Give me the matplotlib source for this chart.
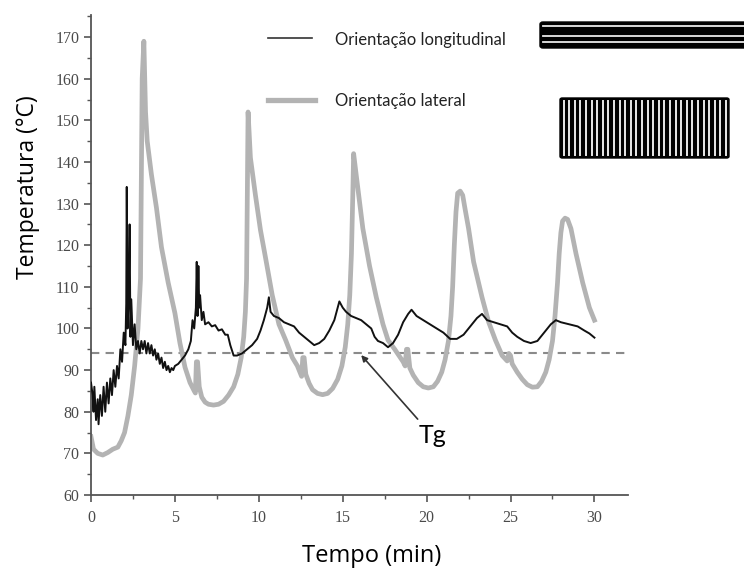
import matplotlib
matplotlib.use("Agg")
import matplotlib.pyplot as plt
from matplotlib.patches import FancyBboxPatch

# ---- data ----
long_x = [0.0, 0.1, 0.15, 0.2, 0.3, 0.4, 0.45, 0.55, 0.65, 0.75, 0.85, 0.95, 1.05, 1.15, 1.25,
          1.35, 1.45, 1.55, 1.65, 1.75, 1.85, 1.95, 2.05, 2.1, 2.13, 2.18, 2.25, 2.3, 2.35, 2.4,
          2.5, 2.6, 2.7, 2.8, 2.9, 3.0, 3.1, 3.2, 3.3, 3.4, 3.5, 3.6, 3.7, 3.8, 3.9, 4.0, 4.1,
          4.2, 4.3, 4.4, 4.5, 4.6, 4.7, 4.8, 4.9, 5.0, 5.2, 5.4, 5.6, 5.8, 5.95, 6.05, 6.15,
          6.25, 6.3, 6.35, 6.4, 6.45, 6.5, 6.6, 6.7, 6.8, 7.0, 7.2, 7.4, 7.6, 7.8, 8.0, 8.15,
          8.3, 8.5, 8.7, 9.0, 9.3, 9.6, 9.9, 10.1, 10.3, 10.5, 10.6, 10.7, 10.9, 11.2, 11.5,
          11.8, 12.1, 12.4, 12.7, 13.0, 13.3, 13.6, 13.9, 14.2, 14.5, 14.7, 14.8, 15.0, 15.2,
          15.5, 15.8, 16.1, 16.4, 16.7, 16.9, 17.1, 17.4, 17.7, 18.0, 18.3, 18.6, 18.9, 19.1,
          19.4, 19.8, 20.2, 20.6, 21.0, 21.4, 21.8, 22.2, 22.6, 23.0, 23.3, 23.6, 24.0, 24.4,
          24.8, 25.1, 25.4, 25.8, 26.2, 26.6, 27.0, 27.4, 27.7, 28.0, 28.5, 29.0, 29.4, 29.7, 30.0]
long_y = [87, 84, 80, 86, 78, 83, 77, 84, 79, 86, 80, 87, 82, 88, 84,
          90, 86, 91, 88, 95, 92, 99, 96, 106, 134, 100, 108, 125, 98, 107,
          96, 101, 95, 97, 94, 97, 95, 97, 94, 96.5, 94, 96, 93.5, 95, 92.5, 94, 91.5,
          93, 90.5, 92, 90, 91, 89.5, 90.5, 90, 91, 91.5, 92.5, 93.5, 95, 97, 102, 100,
          105, 116, 103, 115, 105, 108, 102, 104, 101, 101.5, 100.5, 100.8, 99.5, 99.8, 98.5, 98.5,
          96, 93.5, 93.5, 94, 95, 96, 97.5, 99.5, 102, 105, 107.5, 104, 103, 102.5, 101.5,
          101, 100.5, 99, 98, 97, 96, 96.5, 97.5, 99.5, 102, 105, 106.5, 105, 104,
          103, 102.5, 102, 101, 100, 98, 97, 96.5, 95.5, 96.5, 98.5, 101.5, 103.5, 104.5,
          103, 102, 101, 100, 99, 97.5, 97.5, 98.5, 100.5, 102.5, 103.5, 102, 101.5, 101,
          100.5, 99, 98, 97, 96.5, 97, 99, 101, 102, 101.5, 101, 100.5, 99.5, 98.8, 97.8]

lat_x = [0.0, 0.15, 0.4, 0.7, 1.0, 1.3, 1.6, 1.8, 2.0, 2.2, 2.4, 2.6, 2.8, 2.95, 3.05, 3.15,
         3.25, 3.35, 3.6, 3.9, 4.2, 4.6, 5.0, 5.3, 5.6, 5.9, 6.15, 6.22, 6.28, 6.35, 6.45, 6.6,
         6.8, 7.0, 7.3, 7.6, 7.9, 8.2, 8.5, 8.75, 8.95, 9.1, 9.2, 9.27, 9.33, 9.36,
         9.5, 9.8, 10.1, 10.4, 10.8, 11.2, 11.6, 12.0, 12.3, 12.55, 12.62, 12.7, 12.8,
         13.0, 13.2, 13.5, 13.8, 14.1, 14.4, 14.7, 14.95, 15.15, 15.3, 15.42, 15.52, 15.6, 15.65,
         15.8, 16.2, 16.6, 17.0, 17.4, 17.7, 18.1, 18.6, 18.72, 18.8, 18.88, 19.0,
         19.2, 19.5, 19.8, 20.1, 20.4, 20.65, 20.9, 21.1, 21.3, 21.45, 21.55, 21.65, 21.75,
         21.85, 22.0, 22.15, 22.3, 22.5, 22.8, 23.3, 23.7, 24.1, 24.5, 24.8, 24.9, 25.0, 25.1,
         25.4, 25.7, 26.0, 26.3, 26.6, 26.85, 27.1, 27.3, 27.5, 27.65, 27.8, 27.9, 28.0, 28.1,
         28.25, 28.4, 28.6, 28.9, 29.3, 29.7, 30.0]
lat_y = [74, 71, 70, 69.6, 70.2, 71, 71.5, 73, 75, 79, 84, 91, 100, 112, 160, 169,
         152, 145, 137, 129, 119.5, 111, 103.7, 96.5, 90.7, 87, 85, 84.5, 92, 92, 86, 83.5,
         82.3, 81.8, 81.6, 81.8, 82.5, 84, 86, 89, 93, 98, 104, 112, 140, 152,
         141, 132, 123.6, 117, 108, 101, 97.2, 93, 91, 88.5, 93, 93, 89,
         86.8, 85.3, 84.4, 84.1, 84.4, 85.6, 87.8, 91, 95.5, 101, 108, 118, 132, 142,
         137, 124, 115, 107.5, 101, 97.2, 95, 92, 91, 95, 95, 90.5,
         88.8, 87, 86, 85.7, 86, 87.3, 89.5, 92.5, 97, 103, 110, 120, 128,
         132.5, 133, 132, 128.5, 124, 116, 107.5, 101.5, 97.2, 93.5, 92.2, 94, 93.5, 91.5,
         89.5, 87.8, 86.5, 85.9, 86, 87.3, 89.5, 92.5, 97, 103, 111, 118, 123, 125.8,
         126.5, 126.2, 124, 118, 111, 105, 102]

tg_value = 94
xticks = [0, 5, 10, 15, 20, 25, 30]
yticks = [60, 70, 80, 90, 100, 110, 120, 130, 140, 150, 160, 170]
label_long = "Orientação longitudinal"
label_lat = "Orientação lateral"

# ---- figure ----
W, H = 744, 574
fig = plt.figure(figsize=(W / 100, H / 100), dpi=100)
ax = fig.add_axes([91 / W, 1 - 495 / H, (628 - 91) / W, (495 - 15) / H])

ax.plot(lat_x, lat_y, color="#b3b3b3", lw=3.4, solid_joinstyle="round", zorder=2)
ax.plot(long_x, long_y, color="#111111", lw=1.4, zorder=3)
ax.axhline(tg_value, color="#8a8a8a", lw=1.5, ls=(0, (4, 3)), zorder=1)

ax.set_xlim(0, 32)
ax.set_ylim(60, 175.3)
ax.set_xticks(xticks)
ax.set_yticks(yticks)
ax.set_xticks([2.5, 7.5, 12.5, 17.5, 22.5, 27.5], minor=True)
ax.set_yticks([65, 75, 85, 95, 105, 115, 125, 135, 145, 155, 165, 175], minor=True)
for s in ("top", "right"):
    ax.spines[s].set_visible(False)
for s in ("left", "bottom"):
    ax.spines[s].set_color("#555555")
    ax.spines[s].set_linewidth(1.3)
ax.tick_params(which="major", direction="out", length=5, width=1.2, color="#555555",
               labelsize=11.5, labelcolor="#4a4a4a")
ax.tick_params(which="minor", direction="out", length=3, width=1.0, color="#555555")
for lab in ax.get_xticklabels() + ax.get_yticklabels():
    lab.set_fontfamily("Liberation Serif")
ax.tick_params(axis="x", pad=6)

# legend (drawn manually to match positions)
fig.add_artist(plt.Line2D([268 / W, 312 / W], [1 - 38 / H, 1 - 38 / H], color="#333333", lw=1.2))
fig.add_artist(plt.Line2D([268 / W, 315 / W], [1 - 100 / H, 1 - 100 / H], color="#b3b3b3", lw=3.8))
fig.text(335 / W, 1 - 40 / H, label_long, fontsize=12, family="Lato", color="#222222", va="center")
fig.text(335 / W, 1 - 101 / H, label_lat, fontsize=12, family="Lato", color="#222222", va="center")

# orientation icons
def fy(p):
    return 1 - p / H

# horizontal-fibre icon
fig.add_artist(FancyBboxPatch((540 / W, fy(48)), (760 - 540) / W, (48 - 22) / H,
                              boxstyle="round,pad=0,rounding_size=0.004",
                              facecolor="black", edgecolor="black", lw=1, transform=fig.transFigure))
for py in (26, 35.7, 41.5):
    fig.add_artist(plt.Line2D([543 / W, 1.0], [fy(py), fy(py)], color="#e8e8e8", lw=1.3))

# vertical-fibre icon
fig.add_artist(FancyBboxPatch((560 / W, fy(158)), (729 - 560) / W, (158 - 98) / H,
                              boxstyle="round,pad=0,rounding_size=0.003",
                              facecolor="black", edgecolor="black", lw=1, transform=fig.transFigure))
px = 563.5
while px < 727:
    fig.add_artist(plt.Line2D([px / W, px / W], [fy(101), fy(155)], color="#e8e8e8", lw=1.4))
    px += 5.6

# Tg annotation
ax.annotate("Tg", xy=(16.1, tg_value - 0.4), xytext=(19.5, 74.3),
            fontsize=18, family="Lato", color="black", ha="left", va="center",
            arrowprops=dict(arrowstyle="-|>", color="#333333", lw=1.2,
                            mutation_scale=9, shrinkA=2, shrinkB=0))

# axis labels
fig.text(28 / W, 1 - 187 / H, "Temperatura (°C)", rotation=90, fontsize=16.5, family="Open Sans",
         ha="center", va="center", color="black")
fig.text(372 / W, 1 - 556 / H, "Tempo (min)", fontsize=17, family="Open Sans",
         ha="center", va="center", color="black")

fig.savefig("out.png", dpi=100)
